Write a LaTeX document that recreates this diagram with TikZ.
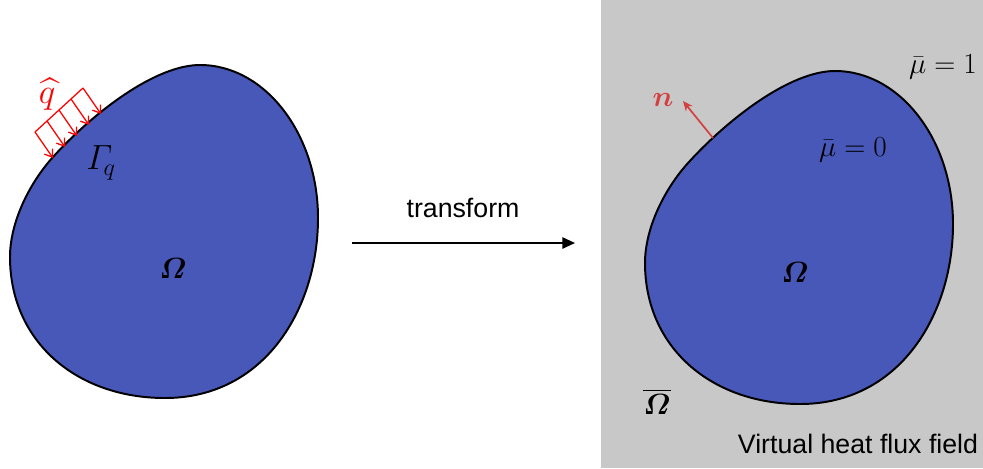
\documentclass[tikz,border=0pt]{standalone}
\usepackage{amsmath,bm}
\usepackage{fontspec}
\setsansfont{Liberation Sans}
\usetikzlibrary{arrows.meta, positioning, calc}

\definecolor{bggray}{RGB}{200,200,200}
\definecolor{blobblue}{RGB}{72,88,185}
\definecolor{normalred}{RGB}{212,64,64}

\tikzset{
  blob/.pic={
    \draw[line width=1.4pt, fill=blobblue] (200,65)
      .. controls (265,65) and (318,134) .. (318,218)
      .. controls (318,308) and (265,398) .. (165,398)
      .. controls (77,398) and (10,342) .. (10,257)
      .. controls (10,222) and (29.5,183) .. (53,157)
      .. controls (93,113) and (155,65) .. cycle;
  }
}

\begin{document}
\begin{tikzpicture}[
        x=0.025cm, y=-0.025cm,
        mathlbl/.style={font=\fontsize{20}{24}\selectfont},
        biglbl/.style={font=\fontsize{25}{30}\selectfont},
        sflbl/.style={font=\sffamily\fontsize{19}{22}\selectfont},
        flux/.style={red, line width=0.9pt},
      ]
        \useasboundingbox (0,0) rectangle (983,468);
        \fill[bggray] (601,0) rectangle (983,468);

        \pic at (0,0) {blob};
        \pic at (635,6) {blob};

        \node[mathlbl] (omegaL) at (173,268) {$\bm{\varOmega}$};
        \node[mathlbl] (omegaR) at (795,272) {$\bm{\varOmega}$};
        \node[biglbl] (gammaq) at (101,163) {$\varGamma_{\!q}$};
        \node[biglbl, red] (qhat) at (47,94) {$\widehat{q}$};
        \node[mathlbl] (muin) at (853,150) {$\bar{\mu}=0$};
        \node[mathlbl] (muout) at (943,67) {$\bar{\mu}=1$};
        \node[mathlbl] (omegabar) at (657,402) {$\overline{\bm{\varOmega}}$};
        \node[mathlbl, normalred] (nvec) at (663,100) {$\bm{n}$};

        \draw[flux] (35,132) -- (83,88);
        \foreach \i in {0,...,4}
          \draw[flux, -{Straight Barb[length=5pt, width=7pt]}] ($(35,132)+\i*(12,-11)$) -- ++(18,26);

        \coordinate (nfoot) at (713,138);
        \coordinate (ntip) at (683,101);
        \draw[normalred, line width=1.2pt, -{Stealth[length=7pt, width=6pt]}] (nfoot) -- (ntip);

        \coordinate (tfstart) at (352,243);
        \coordinate (tfend) at (575,243);
        \draw[line width=1.4pt, -{Triangle[length=9pt, width=8pt]}] (tfstart) -- (tfend);
        \node[sflbl] (tflabel) at (463,208) {transform};
        \node[sflbl] (fieldlabel) at (858,444) {Virtual heat flux field};
      \end{tikzpicture}
\end{document}
